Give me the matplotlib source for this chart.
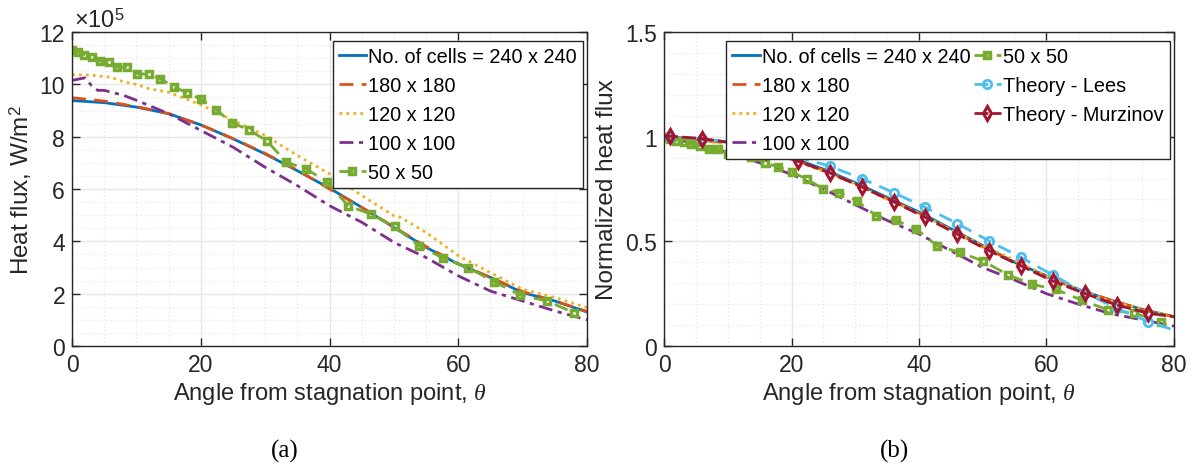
import matplotlib
matplotlib.use("Agg")
import matplotlib.pyplot as plt
from matplotlib.ticker import MultipleLocator

plt.rcParams['font.family'] = ['Liberation Sans', 'DejaVu Sans']
plt.rcParams['mathtext.fontset'] = 'custom'
plt.rcParams['mathtext.rm'] = 'Liberation Sans'
plt.rcParams['mathtext.it'] = 'Liberation Serif:italic'

# ---- data, panel (a): heat flux in units of 1e5 W/m^2 ----
theta = [0, 5, 10, 15, 20, 25, 30, 35, 40, 45, 50, 55, 60, 65, 70, 75, 80]
q240 = [9.38, 9.3, 9.13, 8.88, 8.45, 7.92, 7.34, 6.7, 6.03, 5.3, 4.53, 3.77, 3.13, 2.62, 2.04, 1.72, 1.30]
q180 = [9.49, 9.36, 9.15, 8.88, 8.45, 7.93, 7.36, 6.72, 6.0, 5.3, 4.55, 3.8, 3.15, 2.62, 2.08, 1.72, 1.32]
theta120 = [0, 3, 6, 8, 10, 12, 15, 20, 25, 30, 35, 40, 45, 50, 51, 55, 60, 65, 70, 75, 80]
q120 = [10.37, 10.35, 10.27, 10.1, 10.0, 9.83, 9.7, 9.22, 8.62, 8.05, 7.28, 6.58, 5.75, 4.98, 4.92, 4.34, 3.45, 2.8, 2.17, 1.85, 1.47]
theta100 = [0, 1, 2, 3, 4, 5, 8, 10, 15, 20, 25, 30, 35, 40, 45, 50, 55, 60, 65, 70, 75, 80]
q100 = [10.15, 10.2, 10.25, 9.96, 9.77, 9.77, 9.58, 9.39, 8.88, 8.24, 7.6, 6.83, 6.13, 5.36, 4.73, 3.96, 3.38, 2.68, 2.1, 1.72, 1.34, 1.0]
theta50 = [0, 0.9, 1.9, 3.1, 4.3, 5.7, 7.0, 8.5, 10.1, 11.9, 13.7, 15.8, 17.9, 20.0, 22.4, 24.9,
           27.5, 30.3, 33.3, 36.4, 39.6, 42.9, 46.4, 50.1, 53.9, 57.7, 61.5, 65.6, 69.6, 73.8, 77.9]
q50 = [11.30, 11.24, 11.14, 11.05, 10.89, 10.85, 10.66, 10.66, 10.41, 10.38, 10.22, 9.90, 9.68, 9.43, 9.03, 8.52,
       8.26, 7.83, 7.02, 6.77, 6.26, 5.36, 5.04, 4.57, 3.83, 3.35, 3.0, 2.45, 1.95, 1.72, 1.28]

# ---- data, panel (b): normalized heat flux ----
n240 = [1.0, 0.99, 0.975, 0.945, 0.90, 0.845, 0.78, 0.71, 0.64, 0.56, 0.48, 0.40, 0.335, 0.27, 0.22, 0.175, 0.14]
n180 = [1.0, 0.985, 0.97, 0.94, 0.895, 0.84, 0.775, 0.705, 0.635, 0.555, 0.475, 0.40, 0.33, 0.27, 0.22, 0.175, 0.14]
n120 = [1.0, 0.985, 0.965, 0.935, 0.89, 0.835, 0.775, 0.70, 0.635, 0.555, 0.48, 0.41, 0.335, 0.27, 0.215, 0.178, 0.14]
n100 = [1.0, 0.965, 0.925, 0.875, 0.82, 0.75, 0.675, 0.60, 0.535, 0.455, 0.375, 0.315, 0.25, 0.20, 0.155, 0.125, 0.095]
n50 = [0.999, 0.991, 0.981, 0.975, 0.964, 0.957, 0.939, 0.939, 0.919, 0.917, 0.905, 0.875, 0.856, 0.832, 0.797, 0.752,
       0.733, 0.692, 0.622, 0.60, 0.558, 0.477, 0.448, 0.405, 0.341, 0.295, 0.270, 0.218, 0.173, 0.157, 0.116]
theta_th = [0, 1, 6, 11, 16, 21, 26, 31, 36, 41, 46, 51, 56, 61, 66, 71, 76, 80]
lees = [1.0, 1.0, 0.99, 0.97, 0.945, 0.903, 0.859, 0.80, 0.733, 0.662, 0.585, 0.502, 0.423, 0.339, 0.255, 0.18, 0.116, 0.076]
murz = [1.0, 1.002, 0.991, 0.968, 0.932, 0.883, 0.827, 0.76, 0.689, 0.614, 0.534, 0.455, 0.383, 0.31, 0.251, 0.196, 0.156, 0.14]

c_blue, c_orange, c_yellow = '#0072BD', '#D95319', '#EDB120'
c_purple, c_green, c_lblue, c_red = '#7E2F8E', '#77AC30', '#4DBEEE', '#A2142F'
txt = '#262626'
lw = 2.0

fig = plt.figure(figsize=(12.01, 4.77), dpi=100)
ax1 = fig.add_axes([0.0600, 0.2725, 0.4288, 0.6583])
ax2 = fig.add_axes([0.5529, 0.2725, 0.4246, 0.6583])


def style(ax, ymax, ymaj, ymin):
    ax.set_xlim(0, 80)
    ax.set_ylim(0, ymax)
    ax.xaxis.set_major_locator(MultipleLocator(20))
    ax.xaxis.set_minor_locator(MultipleLocator(5))
    ax.yaxis.set_major_locator(MultipleLocator(ymaj))
    ax.yaxis.set_minor_locator(MultipleLocator(ymin))
    ax.grid(True, which='major', color='#e6e6e6', lw=1.0)
    ax.grid(True, which='minor', color='#e6e6e6', lw=0.9, ls=(0, (1, 2)))
    ax.set_axisbelow(True)
    ax.tick_params(which='major', direction='in', top=True, right=True, length=6, width=1,
                   labelsize=16.5, colors=txt, pad=5)
    ax.tick_params(which='minor', length=0)
    for s in ax.spines.values():
        s.set_color(txt)
        s.set_linewidth(1.0)
    ax.set_xlabel(r'Angle from stagnation point, $\theta$', fontsize=17, color=txt, labelpad=3)


def legend(ax, ncol):
    leg = ax.legend(loc='upper right', bbox_to_anchor=(0.992, 0.97), ncol=ncol, fontsize=14.3,
                    frameon=True, fancybox=False, edgecolor=txt, framealpha=1, handlelength=1.4,
                    handletextpad=0.1, borderpad=0.3, labelspacing=0.5, columnspacing=0.15,
                    borderaxespad=0)
    leg.get_frame().set_linewidth(1.0)
    return leg


# panel (a)
ax1.plot(theta, q240, color=c_blue, lw=lw, ls='-', label='No. of cells = 240 x 240')
ax1.plot(theta, q180, color=c_orange, lw=lw, ls=(0, (5, 3)), label='180 x 180')
ax1.plot(theta120, q120, color=c_yellow, lw=lw, ls=(0, (1, 1.5)), label='120 x 120')
ax1.plot(theta100, q100, color=c_purple, lw=lw, ls=(0, (5, 2, 1.5, 2)), label='100 x 100')
ax1.plot(theta50, q50, color=c_green, lw=lw, ls=(0, (5, 3)), marker='s', ms=5,
         mfc='none', mew=2.5, label='50 x 50')
style(ax1, 12, 2, 0.5)
ax1.set_yticks([0, 2, 4, 6, 8, 10, 12])
ax1.set_ylabel(r'Heat flux, W/m$^2$', fontsize=17.5, color=txt, labelpad=4)
ax1.text(0.003, 1.0, r'$\times10^{5}$', transform=ax1.transAxes, fontsize=17, color=txt,
         ha='left', va='bottom')
legend(ax1, 1)

# panel (b)
ax2.plot(theta, n240, color=c_blue, lw=lw, ls='-', label='No. of cells = 240 x 240')
ax2.plot(theta, n180, color=c_orange, lw=lw, ls=(0, (5, 3)), label='180 x 180')
ax2.plot(theta, n120, color=c_yellow, lw=lw, ls=(0, (1, 1.5)), label='120 x 120')
ax2.plot(theta, n100, color=c_purple, lw=lw, ls=(0, (5, 2, 1.5, 2)), label='100 x 100')
ax2.plot(theta50, n50, color=c_green, lw=lw, ls=(0, (5, 3)), marker='s', ms=5,
         mfc='none', mew=2.5, label='50 x 50')
ax2.plot(theta_th, lees, color=c_lblue, lw=lw, ls=(0, (5, 3)), marker='o', ms=6, mfc='none',
         mew=2, markevery=list(range(1, 17)), label='Theory - Lees')
ax2.plot(theta_th, murz, color=c_red, lw=lw, ls=(0, (5, 1.5)), marker='d', ms=7, mfc='none',
         mew=2.2, markevery=list(range(1, 17)), label='Theory - Murzinov')
style(ax2, 1.5, 0.5, 0.1)
ax2.set_yticks([0, 0.5, 1, 1.5])
ax2.set_yticklabels(['0', '0.5', '1', '1.5'])
ax2.set_ylabel('Normalized heat flux', fontsize=17.5, color=txt, labelpad=5)
legend(ax2, 2)

fig.text(0.2373, 0.030, '(a)', fontsize=18, family='Liberation Serif', ha='center', va='bottom')
fig.text(0.7452, 0.030, '(b)', fontsize=18, family='Liberation Serif', ha='center', va='bottom')

fig.savefig('out.png', dpi=100)
